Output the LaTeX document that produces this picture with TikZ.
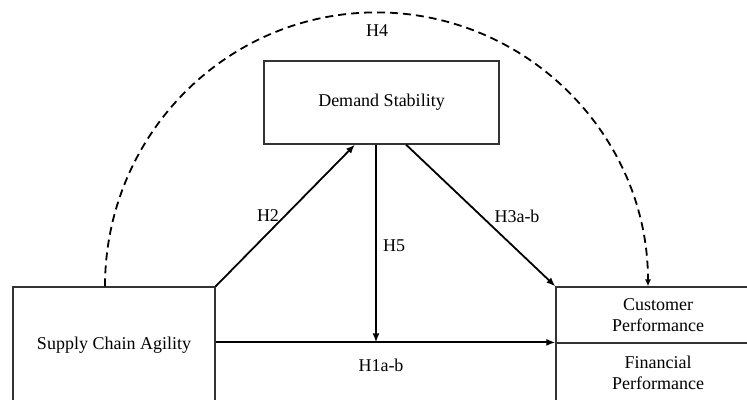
\documentclass[tikz,border=0pt]{standalone}
\usepackage{fontspec}
\setmainfont{Liberation Serif}
\usetikzlibrary{arrows.meta,positioning}

\begin{document}
\begin{tikzpicture}[
            x=1pt, y=1pt,
            every node/.append style = {font=\fontsize{18}{21.5}\selectfont, inner sep=0pt},
            box/.style = {draw=black!80, line width=1.2pt, align=center},
            link/.style = {line width=1.8pt, -{Latex[length=9pt,width=7pt]}},
            hyp/.style = {anchor=center}]
            \useasboundingbox (0,0) rectangle (747,399);
            \clip (0,0) rectangle (747,399);
            % constructs
            \node[box, minimum width=202, minimum height=116] (sca) at (114,54) {Supply Chain Agility};
            \node[box, minimum width=235, minimum height=83] (ds) at (381.5,296.5) {Demand Stability};
            \node[box, minimum width=204, minimum height=56] (cust) at (658,84) {Customer\\Performance};
            \node[box, minimum width=204, minimum height=60] (fin) at (658,26) {Financial\\Performance};
            % paths
            \draw[link] (sca.north east) -- ([xshift=-26.5pt]ds.south);
            \draw[link] ([xshift=24.5pt]ds.south) -- (cust.north west);
            \draw[link] (sca.east |- fin.north) -- (fin.north west);
            \draw[link] ([xshift=-5.5pt]ds.south) -- ([xshift=-5.5pt]ds.south |- fin.north);
            \draw[line width=1.8pt, dash pattern=on 8pt off 5pt, -{Latex[length=7pt,width=6pt]}]
                ([xshift=-9pt]sca.north) arc[start angle=180, end angle=0, x radius=271.5, y radius=274];
            % labels
            \node[hyp] (h4) at (377,368) {H4};
            \node[hyp] (h2) at (268,183) {H2};
            \node[hyp] (h5) at (394,153) {H5};
            \node[hyp] (h3) at (517,183) {H3a-b};
            \node[hyp] (h1) at (381,34) {H1a-b};
        \end{tikzpicture}
\end{document}
